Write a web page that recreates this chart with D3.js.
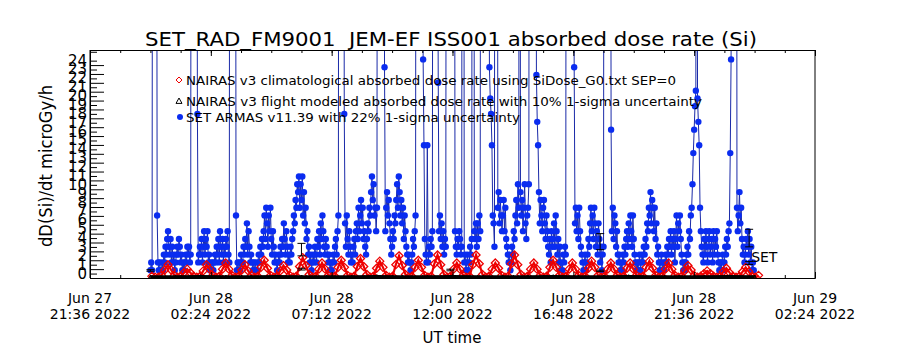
<!DOCTYPE html>
<html>
<head>
<meta charset="utf-8">
<script src="https://cdn.jsdelivr.net/npm/d3@7"></script>
<style>
  body { margin: 0; background: #fff; }
  text { font-family: "DejaVu Sans", sans-serif; fill: #000; white-space: pre; }
</style>
</head>
<body>
<div id="container"></div>
<script>
/* CONSTANTS AND GLOBALS */
const width = 900, height = 350;
const plot = {left: 90, right: 815, top: 50, bottom: 278};

// x axis: major tick times and their two-line labels
const xTickDates = ["2022-06-27T21:36Z", "2022-06-28T02:24Z", "2022-06-28T07:12Z", "2022-06-28T12:00Z",
                    "2022-06-28T16:48Z", "2022-06-28T21:36Z", "2022-06-29T02:24Z"];
const xTickDay = ["Jun 27", "Jun 28", "Jun 28", "Jun 28", "Jun 28", "Jun 28", "Jun 29"];
const xTickTime = ["21:36 2022", "02:24 2022", "07:12 2022", "12:00 2022", "16:48 2022", "21:36 2022", "02:24 2022"];
const yTickValues = d3.range(0, 25);   // 0 .. 24 labels
const yMax = 25.7;

// SET ARMAS, 2 min samples from Jun 28 00:00 UT, in counts (1 count = 0.88 microGy/h), one row per hour
const setStart = "2022-06-28T00:00Z", setStepMin = 2, setCountDose = 0.88;
const setCounts = [
  [1,2,1,140,280,320,250,110,8,2, 1,2,1,1,2,1,3,2,4,3, 5,6,4,3,5,2,4,2,3,1],
  [2,3,4,3,5,4,2,3,1,2, 1,2,3,2,4,3,4,2,3,150, 300,350,320,260,180,90,21,2,3,4],
  [3,5,2,4,6,3,5,4,6,2, 3,1,2,1,2,1,2,3,2,4, 3,5,2,6,4,3,5,2,4,3],
  [5,4,6,3,2,160,310,360,330,270, 200,120,8,1,2,1,2,1,3,2, 2,4,3,5,4,7,3,6,4,2],
  [3,2,1,2,1,2,1,1,2,3, 2,4,3,5,4,6,8,5,9,7, 4,8,6,9,5,3,6,4,2,3],
  [2,1,2,3,2,4,3,5,4,7, 5,3,6,4,2,3,2,4,3,5, 6,8,7,10,9,12,11,13,9,12],
  [10,13,8,11,7,9,5,6,3,4, 2,3,1,2,3,2,4,3,2,5, 4,6,3,7,5,8,6,4,3,5],
  [4,3,2,3,1,2,1,2,3,2, 4,5,3,6,8,170,320,380,340,250, 140,21,7,4,8,5,3,6,4,2],
  [3,2,4,5,3,6,7,5,9,6, 8,10,7,9,5,6,4,3,5,7, 6,9,8,11,13,10,12,8,9,6],
  [9,160,300,370,400,360,280,190,110,27, 6,9,11,8,10,7,5,3,4,6, 5,8,7,10,12,9,13,11,8,10],
  [7,9,5,8,6,4,3,2,3,2, 1,2,3,5,4,6,8,150,290,350, 380,340,260,170,90,28,17,5,3,2],
  [17,2,4,3,5,4,6,120,230,260, 210,140,60,25,6,8,5,7,4,6, 3,5,4,130,260,320,360,380,350,300],
  [300,220,110,6,4,3,5,4,6,5, 3,4,180,150,2,3,1,2,3,1, 2,4,3,5,200,170,6,5,7,4],
  [7,5,8,6,140,280,340,380,400,390, 330,250,170,90,27,23,21,17,8,7, 4,160,300,190,9,11,7,10,8,6],
  [8,10,6,9,5,4,3,2,3,1, 2,4,3,6,5,8,10,7,12,9, 170,11,8,10,6,9,12,7,5,8],
  [9,12,150,290,360,400,380,310,220,120, 26,20,17,11,7,10,8,6,9,10, 7,5,8,6,4,3,5,2,6,4],
  [5,7,4,8,6,3,5,2,4,1, 2,1,3,2,4,3,170,300,360,390, 380,330,250,160,80,27,7,9,6,8],
  [5,9,6,4,3,2,1,2,3,1, 2,3,5,4,7,9,6,8,5,9, 7,4,6,3,7,5,2,4,1,3],
  [4,140,270,340,380,360,290,200,110,19, 6,9,5,8,7,4,6,3,2,3, 1,2,1,3,2,4,3,5,6,4],
  [7,5,8,6,4,8,5,3,2,1, 2,1,2,3,1,2,3,2,4,3, 5,4,7,6,9,8,11,7,10,9],
  [6,9,5,7,3,4,2,1,2,3, 1,2,1,2,3,2,4,3,5,4, 6,3,5,4,6,2,5,8,4,7],
  [6,8,5,3,2,1,2,1,2,3, 4,3,6,5,8,9,12,16,19,22, 24,150,23,20,17,9,6,4,3,2],
  [5,3,6,4,2,5,6,3,4,5, 2,6,3,5,4,6,3,2,1,2, 1,2,3,1,2,4,3,5,4,6],
  [7,16,28,200,340,380,360,300,190,9, 6,8,11,7,9,5,3,4,2,3, 5,4,6,3,5,2,4,1,2,1]
];

// NAIRAS v3 climatological dose rate (microGy/h), one value every 7.65 min
const climStart = "2022-06-28T00:03:30Z", climStepMin = 7.65;
const climDose = [
  0.2,0.1,0.1,0.3,
  0.9,1.5,0.9,0.3,0.1,0.2, 0.6,1.0,0.6,0.2,0.1,0.2, 0.8,1.5,1.0,0.3,0.1,0.2, 1.0,1.7,1.0,0.3,0.1,0.2,
  0.9,1.5,0.8,0.3,0.1,0.2, 1.2,2.0,1.1,0.3,0.1,0.2, 0.8,1.4,0.9,0.3,0.1,0.2, 1.3,2.3,1.4,0.4,0.1,0.2,
  1.0,1.7,1.0,0.3,0.1,0.2, 1.2,2.0,1.2,0.3,0.1,0.2, 1.3,2.2,1.3,0.4,0.1,0.2, 1.1,1.9,1.2,0.3,0.1,0.2,
  1.5,2.5,1.4,0.4,0.1,0.2, 1.2,2.0,1.2,0.3,0.1,0.2, 1.6,2.6,1.5,0.4,0.1,0.2, 1.0,1.7,1.0,0.3,0.1,0.2,
  1.5,2.6,1.6,0.4,0.1,0.2, 1.0,1.7,1.1,0.3,0.1,0.2, 1.6,2.6,1.5,0.4,0.1,0.2, 1.0,1.7,1.0,0.3,0.1,0.2,
  1.2,2.0,1.2,0.3,0.1,0.2, 1.0,1.7,1.0,0.3,0.1,0.2, 1.1,1.9,1.2,0.3,0.1,0.2, 1.0,1.7,1.0,0.3,0.1,0.2,
  1.1,1.7,1.0,0.3,0.1,0.2, 1.2,1.9,1.1,0.3,0.1,0.2, 1.0,1.7,1.0,0.3,0.1,0.2, 0.8,1.4,0.9,0.3,0.1,0.2,
  0.5,0.8,0.5,0.2,0.1,0.2, 0.7,1.1,0.6,0.2,0.1,0.2, 0.7,1.2,0.7,0.2,0.1,0.3
];

// NAIRAS v3 flight modeled dose rate, hourly
const flightStart = "2022-06-28T00:00Z", flightStepMin = 60;
const flightDose = [0.1,0.1,0.15,0.1,0.1,0.15,0.1,0.1,0.1,0.15,0.1,0.1,0.15,0.1,0.1,0.1,0.15,0.1,0.1,0.15,0.1,0.1,0.1,0.15,0.1];
// points with 10% error bars
const flightErrTimes = ["2022-06-28T00:00Z", "2022-06-28T06:00Z", "2022-06-28T11:55Z", "2022-06-28T17:52Z", "2022-06-28T23:47Z"];
const flightErrDose = [0.85, 1.0, 0.9, 0.8, 1.7];
// SET averages with 22% error bars
const setErrTimes = ["2022-06-28T06:00Z", "2022-06-28T17:52Z", "2022-06-28T23:47Z"];
const setErrDose = [3.2, 4.1, 4.5];

const legend = [
  {sym: "diamond", text: "NAIRAS v3 climatological absorbed dose rate using SiDose_G0.txt SEP=0", y: 85, len: 490},
  {sym: "triangle", text: "NAIRAS v3 flight modeled absorbed dose rate with 10% 1-sigma uncertainty", y: 106, len: 516},
  {sym: "dot", text: "SET ARMAS v11.39 with 22% 1-sigma uncertainty", y: 122, len: 334}
];

const blueLine = "#1a2aa8", blueDot = "#0a2cf0", red = "#ee0000";

/* BUILD SERIES */
const minutes = m => m * 60000;
const setSeries = setCounts.flat().map((c, i) => ({t: new Date(+new Date(setStart) + minutes(i * setStepMin)), v: c * setCountDose}));
const climSeries = climDose.map((v, i) => ({t: new Date(+new Date(climStart) + minutes(i * climStepMin)), v}));
const flightSeries = flightDose.map((v, i) => ({t: new Date(+new Date(flightStart) + minutes(i * flightStepMin)), v}));

/* SVG */
const svg = d3.select("#container").append("svg")
  .attr("width", width).attr("height", height);

svg.append("defs").append("clipPath").attr("id", "clip")
  .append("rect").attr("x", plot.left).attr("y", plot.top)
  .attr("width", plot.right - plot.left).attr("height", plot.bottom - plot.top);

/* SCALES */
const xScale = d3.scaleUtc()
  .domain([new Date(xTickDates[0]), new Date(xTickDates[xTickDates.length - 1])])
  .range([plot.left, plot.right]);
const yScale = d3.scaleLinear().domain([0, yMax]).range([plot.bottom, plot.top]);

/* DATA MARKS */
const g = svg.append("g").attr("clip-path", "url(#clip)");
const line = d3.line().x(d => xScale(d.t)).y(d => yScale(d.v));

// SET ARMAS
g.append("path").datum(setSeries).attr("d", line)
  .attr("fill", "none").attr("stroke", blueLine).attr("stroke-width", 1);
g.selectAll(".set").data(setSeries.filter(d => d.v < yMax + 1)).join("circle")
  .attr("class", "set")
  .attr("cx", d => xScale(d.t)).attr("cy", d => yScale(d.v)).attr("r", 3.2)
  .attr("fill", blueDot);

// NAIRAS climatological
g.append("path").datum(climSeries).attr("d", line)
  .attr("fill", "none").attr("stroke", red).attr("stroke-width", 2.2);
const diamond = (x, y, s) => `M${x},${y - s}L${x + s},${y}L${x},${y + s}L${x - s},${y}Z`;
g.selectAll(".clim").data(climSeries).join("path")
  .attr("class", "clim")
  .attr("d", d => diamond(xScale(d.t), yScale(d.v), 4))
  .attr("fill", "none").attr("stroke", red).attr("stroke-width", 1.3);

// NAIRAS flight modeled
g.append("path").datum(flightSeries).attr("d", line)
  .attr("fill", "none").attr("stroke", "#000").attr("stroke-width", 3.5);
const triangle = (x, y, s) => `M${x},${y - s}L${x + s},${y + s * 0.8}L${x - s},${y + s * 0.8}Z`;
g.selectAll(".flight").data(flightSeries).join("path")
  .attr("class", "flight")
  .attr("d", d => triangle(xScale(d.t), yScale(d.v), 2))
  .attr("fill", "none").attr("stroke", "#000");

// error bars
const errBar = (times, vals, frac, cls) => {
  const eb = g.selectAll("." + cls).data(times.map((t, i) => ({t: new Date(t), v: vals[i]}))).join("g").attr("class", cls);
  eb.append("line").attr("x1", d => xScale(d.t)).attr("x2", d => xScale(d.t))
    .attr("y1", d => yScale(d.v * (1 - frac))).attr("y2", d => yScale(d.v * (1 + frac))).attr("stroke", "#000");
  [1 - frac, 1 + frac].forEach(k => {
    eb.append("line").attr("x1", d => xScale(d.t) - 4).attr("x2", d => xScale(d.t) + 4)
      .attr("y1", d => yScale(d.v * k)).attr("y2", d => yScale(d.v * k)).attr("stroke", "#000");
  });
};
errBar(flightErrTimes, flightErrDose, 0.1, "ferr");
errBar(setErrTimes, setErrDose, 0.22, "serr");

svg.append("text").attr("x", xScale(new Date(setErrTimes[2])) + 2).attr("y", 262)
  .style("font-size", "14px").text("SET");

/* AXES */
const majorTicks = xTickDates.map(d => new Date(d));
const minorTicks = d3.range(0, 25).map(i => new Date(+majorTicks[0] + minutes(i * 72)));

const axisStyle = sel => { sel.selectAll("path,line").attr("stroke", "#000"); sel.selectAll("text").remove(); };

svg.append("g").attr("transform", `translate(0,${plot.bottom})`)
  .call(d3.axisBottom(xScale).tickValues(minorTicks).tickSize(-3).tickSizeOuter(0)).call(axisStyle);
svg.append("g").attr("transform", `translate(0,${plot.bottom})`)
  .call(d3.axisBottom(xScale).tickValues(majorTicks).tickSize(-6).tickSizeOuter(0)).call(axisStyle);
svg.append("g").attr("transform", `translate(0,${plot.top})`)
  .call(d3.axisTop(xScale).tickValues(minorTicks).tickSize(-3).tickSizeOuter(0)).call(axisStyle);
svg.append("g").attr("transform", `translate(0,${plot.top})`)
  .call(d3.axisTop(xScale).tickValues(majorTicks).tickSize(-6).tickSizeOuter(0)).call(axisStyle);

// x labels: two lines
const xl = svg.append("g").selectAll("g").data(majorTicks).join("g")
  .attr("transform", d => `translate(${xScale(d)},0)`);
xl.append("text").attr("y", 303).attr("text-anchor", "middle").style("font-size", "14px")
  .text((d, i) => xTickDay[i]);
xl.append("text").attr("y", 319).attr("text-anchor", "middle").style("font-size", "14px")
  .text((d, i) => xTickTime[i]);

// y axis
const yMinor = d3.range(0.5, yMax, 1);
svg.append("g").attr("transform", `translate(${plot.left},0)`)
  .call(d3.axisLeft(yScale).tickValues(yMinor).tickSize(-7).tickSizeOuter(0)).call(axisStyle);
const yAx = svg.append("g").attr("transform", `translate(${plot.left},0)`)
  .call(d3.axisLeft(yScale).tickValues(yTickValues).tickSize(-14).tickSizeOuter(0).tickPadding(3));
yAx.selectAll("path,line").attr("stroke", "#000");
yAx.selectAll("text").attr("dy", 0).attr("fill", "#000")
  .style("font-size", "15px").style("font-family", "DejaVu Sans");
yAx.select(".domain").attr("d", `M0,${plot.bottom}V${plot.top}`);

// right edge
svg.append("line").attr("x1", plot.right).attr("x2", plot.right)
  .attr("y1", plot.top).attr("y2", plot.bottom).attr("stroke", "#000");

/* TITLES */
svg.append("text").attr("x", 451).attr("y", 46).attr("text-anchor", "middle")
  .attr("textLength", 612).attr("lengthAdjust", "spacingAndGlyphs")
  .style("font-size", "20px")
  .text("SET_RAD_FM9001  JEM-EF ISS001 absorbed dose rate (Si)");
svg.append("text").attr("x", 452).attr("y", 343).attr("text-anchor", "middle")
  .style("font-size", "15px").text("UT time");
svg.append("text").attr("transform", "translate(52,166) rotate(-90)").attr("text-anchor", "middle")
  .attr("textLength", 162).attr("lengthAdjust", "spacingAndGlyphs")
  .style("font-size", "17px").text("dD(Si)/dt microGy/h");

/* LEGEND */
legend.forEach(d => {
  const cy = d.y - 5, cx = 179;
  if (d.sym === "diamond") svg.append("path").attr("d", diamond(cx, cy, 3)).attr("fill", "none").attr("stroke", red);
  if (d.sym === "triangle") svg.append("path").attr("d", triangle(cx, cy, 3)).attr("fill", "none").attr("stroke", "#000");
  if (d.sym === "dot") svg.append("circle").attr("cx", cx + 1).attr("cy", cy).attr("r", 3).attr("fill", blueDot);
  svg.append("text").attr("x", 186).attr("y", d.y)
    .attr("textLength", d.len).attr("lengthAdjust", "spacingAndGlyphs")
    .style("font-size", "13px").text(d.text);
});
</script>
</body>
</html>
